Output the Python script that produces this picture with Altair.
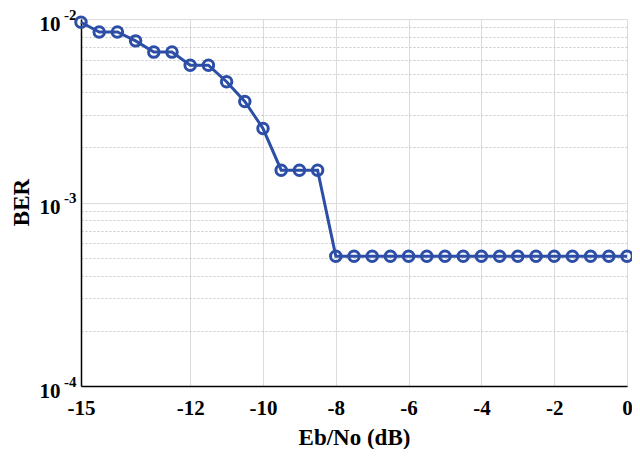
import altair as alt
import pandas as pd

ebno = [-15, -14.5, -14, -13.5, -13, -12.5, -12, -11.5, -11, -10.5, -10, -9.5, -9, -8.5,
        -8, -7.5, -7, -6.5, -6, -5.5, -5, -4.5, -4, -3.5, -3, -2.5, -2, -1.5, -1, -0.5, 0]
ber = [0.0096, 0.0085, 0.0085, 0.0076, 0.0066, 0.0066, 0.0056, 0.0056, 0.00455, 0.00355,
       0.00253, 0.0015, 0.0015, 0.0015,
       0.00051, 0.00051, 0.00051, 0.00051, 0.00051, 0.00051, 0.00051, 0.00051, 0.00051,
       0.00051, 0.00051, 0.00051, 0.00051, 0.00051, 0.00051, 0.00051, 0.00051]
x_ticks = [-15, -12, -10, -8, -6, -4, -2, 0]
y_ticks = [m * 10.0 ** e for e in (-4, -3) for m in range(1, 10)] + [1e-2]
decades = [1e-4, 1e-3, 1e-2]

df = pd.DataFrame({"ebno": ebno, "ber": ber})
BLUE = "#2c4ea6"
FONT = "Liberation Serif"

is_decade = "abs(log(datum.value)/LN10 - round(log(datum.value)/LN10)) < 1e-6"
exp_expr = "round(log(datum.value)/LN10)"
ten_expr = f"({is_decade}) ? '10' : ''"
exp_label = f"({is_decade}) ? ('' + {exp_expr}) : ''"

x = alt.X("ebno:Q", scale=alt.Scale(domain=[-15, 0], nice=False),
          axis=alt.Axis(values=x_ticks, title="Eb/No (dB)", grid=True, gridColor="#dcdcdc",
                        gridWidth=1, ticks=False, labelFont=FONT, labelFontSize=21,
                        labelFontWeight="bold", labelColor="black", labelPadding=11,
                        labelExpr="replace(datum.label, '−', '-')",
                        titleFont=FONT, titleFontSize=23, titleFontWeight="bold",
                        titleColor="black", titleY=51, titleBaseline="middle",
                        domainColor="black", domainWidth=1.5, labelFlush=False))

y_main = alt.Y("ber:Q", scale=alt.Scale(type="log", domain=[1e-4, 1e-2], nice=False),
               axis=alt.Axis(values=y_ticks, title="BER", labelExpr=ten_expr, grid=True,
                             gridColor={"condition": {"test": is_decade, "value": "#dcdcdc"}, "value": "#c8c8c8"},
                             gridDash={"condition": {"test": is_decade, "value": []}, "value": [2, 2]},
                             ticks=False, labelFont=FONT, labelFontSize=21, labelFontWeight="bold",
                             labelColor="black", labelPadding=21, labelOffset=5,
                             titleFont=FONT, titleFontSize=23, titleFontWeight="bold",
                             titleColor="black", titleX=-60, titleY=183, titleAngle=270,
                             titleAlign="center", titleBaseline="middle",
                             domainColor="black", domainWidth=1.5, labelFlush=False))

y_exp = alt.Y("ber:Q", scale=alt.Scale(type="log", domain=[1e-4, 1e-2], nice=False),
              axis=alt.Axis(values=decades, title=None, labelExpr=exp_label, grid=False,
                            ticks=False, domain=False, orient="left", labelFont=FONT,
                            labelFontSize=15, labelFontWeight="bold", labelColor="black",
                            labelPadding=5, labelOffset=-5, labelFlush=False))

line = alt.Chart(df).mark_line(color=BLUE, strokeWidth=3).encode(x=x, y=y_main)
pts = alt.Chart(df).mark_point(shape="circle", filled=False, color=BLUE, strokeWidth=3,
                               size=110, opacity=1).encode(x=x, y=y_exp)

chart = (line + pts).resolve_scale(y="independent").properties(
    width=546, height=367,
    autosize=alt.AutoSizeParams(type="none"),
    padding={"left": 73, "top": 11, "right": 5, "bottom": 63},
).configure_view(stroke="black", strokeWidth=1.5).configure(background="white")

chart.save("out.html", embed_options={"renderer": "svg", "actions": False})
